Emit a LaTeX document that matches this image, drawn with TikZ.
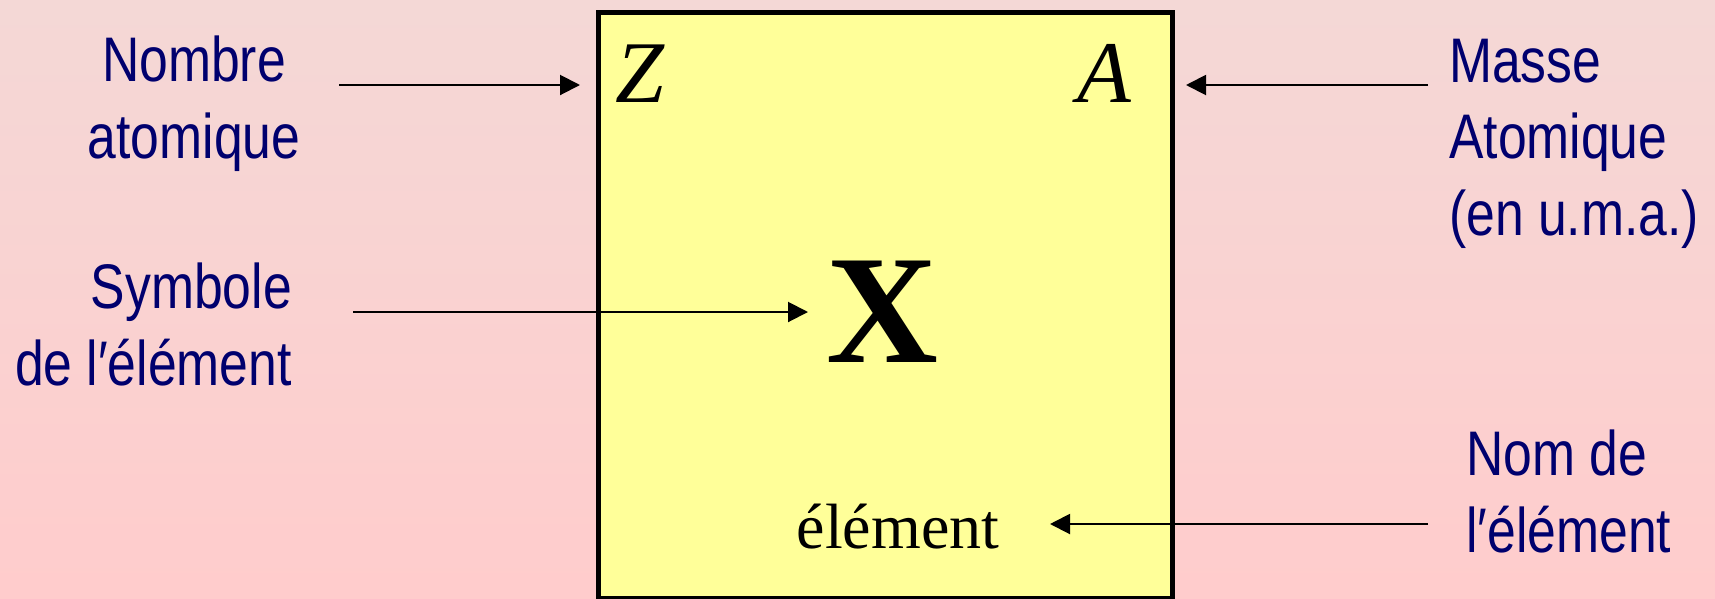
\documentclass[tikz,border=0pt]{standalone}
\usepackage{fontspec}
\setmainfont{Liberation Serif}
\newfontfamily\narrowsf[FakeStretch=0.82]{Liberation Sans}
\usetikzlibrary{arrows.meta,positioning}
\definecolor{cellpink}{RGB}{244,216,214}
\definecolor{cellrose}{RGB}{255,204,204}
\definecolor{cellyellow}{RGB}{255,255,153}
\definecolor{cellnavy}{RGB}{0,0,110}
\tikzset{
 lbl/.style={text=cellnavy,inner sep=0,font=\narrowsf\fontsize{63}{76.5}\selectfont},
 sym/.style={inner sep=0},
 fleche/.style={-{Triangle[length=20pt,width=20pt]},line width=2pt}
}

\begin{document}
\begin{tikzpicture}[x=1pt,y=-1pt]
 \shade[top color=cellpink,bottom color=cellrose] (0,0) rectangle (1715,598);
 \useasboundingbox (0,0) rectangle (1715,598);
 % the cell
 \node[draw,line width=5pt,fill=cellyellow,inner sep=0,anchor=north west,
  minimum width=574pt,minimum height=586.5pt] (case) at (596,9.5) {};
 \node[sym,anchor=base west,font=\fontsize{88}{88}\selectfont\itshape] (Z) at (615,102) {Z};
 \node[sym,anchor=base east,font=\fontsize{88}{88}\selectfont\itshape] (A) at (1131,102) {A};
 \node[sym,anchor=base,font=\fontsize{155}{155}\selectfont\bfseries] (X) at (882.5,362) {X};
 \node[sym,anchor=base,font=\fontsize{64}{64}\selectfont] (elem) at (898,548) {élément};
 % labels (base = last line)
 \node[lbl,align=center,anchor=base] (nombre) at (194,158) {Nombre\\atomique};
 \node[lbl,align=right,anchor=base east] (symbole) at (292,385) {Symbole\\de l′élément};
 \node[lbl,align=left,anchor=base west] (masse) at (1449,235) {Masse\\Atomique\\(en u.m.a.)};
 \node[lbl,align=left,anchor=base west] (nomde) at (1466,552) {Nom de\\l′élément};
 % arrows
 \coordinate (nombre-d) at (339,85);
 \coordinate (z-p) at (580,85);
 \coordinate (masse-d) at (1428,85);
 \coordinate (a-p) at (1186,85);
 \coordinate (symbole-d) at (353,312);
 \coordinate (x-p) at (808,312);
 \coordinate (nomde-d) at (1428,524);
 \coordinate (elem-p) at (1050,524);
 \draw[fleche] (nombre-d) -- (z-p);
 \draw[fleche] (masse-d) -- (a-p);
 \draw[fleche] (symbole-d) -- (x-p);
 \draw[fleche] (nomde-d) -- (elem-p);
\end{tikzpicture}
\end{document}
